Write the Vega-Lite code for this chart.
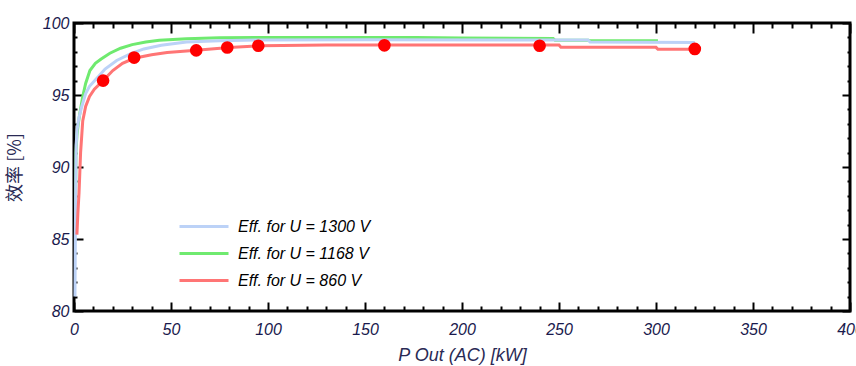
{
  "$schema": "https://vega.github.io/schema/vega-lite/v6.json",
  "width": 776,
  "height": 288,
  "autosize": "none",
  "padding": {"left": 74, "top": 23, "right": 6, "bottom": 55},
  "background": "white",
  "config": {
    "view": {"stroke": "black", "strokeWidth": 3},
    "axis": {
      "grid": false,
      "domain": false,
      "tickColor": "black",
      "tickWidth": 2,
      "labelFont": "Liberation Sans",
      "labelFontStyle": "italic",
      "labelFontSize": 16,
      "labelColor": "#1a1a4d",
      "labelFlush": false,
      "labelOverlap": false,
      "titleFont": "Liberation Sans",
      "titleFontStyle": "italic",
      "titleFontWeight": "normal",
      "titleFontSize": 18,
      "titleColor": "#2a2a55"
    }
  },
  "datasets": {
    "curves": [
      {"series": "Eff. for U = 1168 V", "p": 0.8, "eff": 86.0},
      {"series": "Eff. for U = 1168 V", "p": 0.9, "eff": 88.9},
      {"series": "Eff. for U = 1168 V", "p": 1.0, "eff": 91.0},
      {"series": "Eff. for U = 1168 V", "p": 1.5, "eff": 92.2},
      {"series": "Eff. for U = 1168 V", "p": 2.2, "eff": 93.0},
      {"series": "Eff. for U = 1168 V", "p": 3.1, "eff": 93.8},
      {"series": "Eff. for U = 1168 V", "p": 4.5, "eff": 94.9},
      {"series": "Eff. for U = 1168 V", "p": 6, "eff": 95.8},
      {"series": "Eff. for U = 1168 V", "p": 8.2, "eff": 96.7},
      {"series": "Eff. for U = 1168 V", "p": 11, "eff": 97.2},
      {"series": "Eff. for U = 1168 V", "p": 14, "eff": 97.5},
      {"series": "Eff. for U = 1168 V", "p": 18.5, "eff": 97.9},
      {"series": "Eff. for U = 1168 V", "p": 24, "eff": 98.25},
      {"series": "Eff. for U = 1168 V", "p": 30, "eff": 98.5},
      {"series": "Eff. for U = 1168 V", "p": 37, "eff": 98.68},
      {"series": "Eff. for U = 1168 V", "p": 44, "eff": 98.8},
      {"series": "Eff. for U = 1168 V", "p": 58, "eff": 98.9},
      {"series": "Eff. for U = 1168 V", "p": 75, "eff": 98.97},
      {"series": "Eff. for U = 1168 V", "p": 96, "eff": 99.0},
      {"series": "Eff. for U = 1168 V", "p": 176, "eff": 99.0},
      {"series": "Eff. for U = 1168 V", "p": 200, "eff": 98.95},
      {"series": "Eff. for U = 1168 V", "p": 247, "eff": 98.93},
      {"series": "Eff. for U = 1168 V", "p": 248, "eff": 98.8},
      {"series": "Eff. for U = 1168 V", "p": 265, "eff": 98.8},
      {"series": "Eff. for U = 1168 V", "p": 266, "eff": 98.77},
      {"series": "Eff. for U = 1168 V", "p": 301, "eff": 98.77},
      {"series": "Eff. for U = 1300 V", "p": 0.5, "eff": 81.0},
      {"series": "Eff. for U = 1300 V", "p": 0.7, "eff": 85.0},
      {"series": "Eff. for U = 1300 V", "p": 0.9, "eff": 89.0},
      {"series": "Eff. for U = 1300 V", "p": 1.1, "eff": 91.5},
      {"series": "Eff. for U = 1300 V", "p": 1.6, "eff": 92.6},
      {"series": "Eff. for U = 1300 V", "p": 2.5, "eff": 93.4},
      {"series": "Eff. for U = 1300 V", "p": 4, "eff": 94.2},
      {"series": "Eff. for U = 1300 V", "p": 6, "eff": 95.1},
      {"series": "Eff. for U = 1300 V", "p": 8, "eff": 95.6},
      {"series": "Eff. for U = 1300 V", "p": 12, "eff": 96.2},
      {"series": "Eff. for U = 1300 V", "p": 16, "eff": 96.8},
      {"series": "Eff. for U = 1300 V", "p": 22, "eff": 97.4},
      {"series": "Eff. for U = 1300 V", "p": 29, "eff": 97.85},
      {"series": "Eff. for U = 1300 V", "p": 36, "eff": 98.2},
      {"series": "Eff. for U = 1300 V", "p": 45, "eff": 98.45},
      {"series": "Eff. for U = 1300 V", "p": 58, "eff": 98.68},
      {"series": "Eff. for U = 1300 V", "p": 75, "eff": 98.76},
      {"series": "Eff. for U = 1300 V", "p": 96, "eff": 98.82},
      {"series": "Eff. for U = 1300 V", "p": 150, "eff": 98.84},
      {"series": "Eff. for U = 1300 V", "p": 265, "eff": 98.82},
      {"series": "Eff. for U = 1300 V", "p": 266, "eff": 98.68},
      {"series": "Eff. for U = 1300 V", "p": 320, "eff": 98.65},
      {"series": "Eff. for U = 860 V", "p": 1.5, "eff": 85.3},
      {"series": "Eff. for U = 860 V", "p": 2.0, "eff": 86.8},
      {"series": "Eff. for U = 860 V", "p": 2.6, "eff": 88.2},
      {"series": "Eff. for U = 860 V", "p": 3.4, "eff": 91.0},
      {"series": "Eff. for U = 860 V", "p": 4.5, "eff": 93.2},
      {"series": "Eff. for U = 860 V", "p": 6, "eff": 94.2},
      {"series": "Eff. for U = 860 V", "p": 8, "eff": 94.9},
      {"series": "Eff. for U = 860 V", "p": 10.5, "eff": 95.4},
      {"series": "Eff. for U = 860 V", "p": 15, "eff": 96.0},
      {"series": "Eff. for U = 860 V", "p": 20, "eff": 96.7},
      {"series": "Eff. for U = 860 V", "p": 25, "eff": 97.2},
      {"series": "Eff. for U = 860 V", "p": 31, "eff": 97.55},
      {"series": "Eff. for U = 860 V", "p": 40, "eff": 97.8},
      {"series": "Eff. for U = 860 V", "p": 48, "eff": 97.95},
      {"series": "Eff. for U = 860 V", "p": 63, "eff": 98.1},
      {"series": "Eff. for U = 860 V", "p": 80, "eff": 98.3},
      {"series": "Eff. for U = 860 V", "p": 96, "eff": 98.42},
      {"series": "Eff. for U = 860 V", "p": 130, "eff": 98.47},
      {"series": "Eff. for U = 860 V", "p": 250, "eff": 98.47},
      {"series": "Eff. for U = 860 V", "p": 251, "eff": 98.31},
      {"series": "Eff. for U = 860 V", "p": 300, "eff": 98.31},
      {"series": "Eff. for U = 860 V", "p": 301, "eff": 98.17},
      {"series": "Eff. for U = 860 V", "p": 320, "eff": 98.17}
    ],
    "dots": [
      {"p": 15, "eff": 96.0},
      {"p": 31, "eff": 97.6},
      {"p": 63, "eff": 98.1},
      {"p": 79, "eff": 98.3},
      {"p": 95, "eff": 98.42},
      {"p": 160, "eff": 98.45},
      {"p": 240, "eff": 98.42},
      {"p": 320, "eff": 98.2}
    ]
  },
  "layer": [
    {
      "data": {"name": "curves"},
      "mark": {"type": "line", "strokeWidth": 3},
      "encoding": {
        "x": {"field": "p", "type": "quantitative",
          "scale": {"domain": [0, 400], "zero": false, "nice": false},
          "axis": {"orient": "bottom",
            "values": [0, 10, 20, 30, 40, 50, 60, 70, 80, 90, 100, 110, 120, 130, 140, 150, 160, 170, 180, 190, 200, 210, 220, 230, 240, 250, 260, 270, 280, 290, 300, 310, 320, 330, 340, 350, 360, 370, 380, 390, 400],
            "labelExpr": "datum.value % 50 === 0 ? datum.label : ''",
            "tickSize": {"condition": {"test": "datum.value % 50 === 0", "value": -9}, "value": -5},
            "labelPadding": 19, "title": "P Out (AC) [kW]", "titlePadding": 5}},
        "y": {"field": "eff", "type": "quantitative",
          "scale": {"domain": [80, 100], "zero": false, "nice": false},
          "axis": {"orient": "left",
            "values": [80, 81, 82, 83, 84, 85, 86, 87, 88, 89, 90, 91, 92, 93, 94, 95, 96, 97, 98, 99, 100],
            "labelExpr": "datum.value % 5 === 0 ? datum.label : ''",
            "tickSize": {"condition": {"test": "datum.value % 5 === 0", "value": -9}, "value": -3},
            "labelPadding": 14, "title": "效率 [%]", "titleFont": "Noto Sans CJK SC", "titleFontStyle": "normal", "titlePadding": 18}},
        "color": {"field": "series", "type": "nominal",
          "scale": {"domain": ["Eff. for U = 1300 V", "Eff. for U = 1168 V", "Eff. for U = 860 V"], "range": ["#bcd2f7", "#6fea6f", "#ff7575"]},
          "legend": {"orient": "none", "legendX": 104, "legendY": 195.5, "title": null, "padding": 0,
            "symbolType": "stroke", "symbolSize": 2401, "symbolStrokeWidth": 3, "clipHeight": 16,
            "rowPadding": 11, "labelOffset": 8, "labelFont": "Liberation Sans", "labelFontStyle": "italic",
            "labelFontSize": 16, "labelColor": "black", "labelLimit": 300}}
      }
    },
    {
      "data": {"name": "dots"},
      "mark": {"type": "circle", "size": 160, "color": "#ff0000", "opacity": 1},
      "encoding": {
        "x": {"field": "p", "type": "quantitative", "scale": {"domain": [0, 400], "zero": false, "nice": false},
          "axis": {"orient": "top",
            "values": [0, 10, 20, 30, 40, 50, 60, 70, 80, 90, 100, 110, 120, 130, 140, 150, 160, 170, 180, 190, 200, 210, 220, 230, 240, 250, 260, 270, 280, 290, 300, 310, 320, 330, 340, 350, 360, 370, 380, 390, 400],
            "labels": false,
            "tickSize": {"condition": {"test": "datum.value % 50 === 0", "value": -10}, "value": -5},
            "title": null}},
        "y": {"field": "eff", "type": "quantitative", "scale": {"domain": [80, 100], "zero": false, "nice": false},
          "axis": {"orient": "right",
            "values": [80, 81, 82, 83, 84, 85, 86, 87, 88, 89, 90, 91, 92, 93, 94, 95, 96, 97, 98, 99, 100],
            "labels": false,
            "tickSize": {"condition": {"test": "datum.value % 5 === 0", "value": -8}, "value": -3},
            "title": null}}
      }
    }
  ],
  "resolve": {"axis": {"x": "independent", "y": "independent"}}
}
